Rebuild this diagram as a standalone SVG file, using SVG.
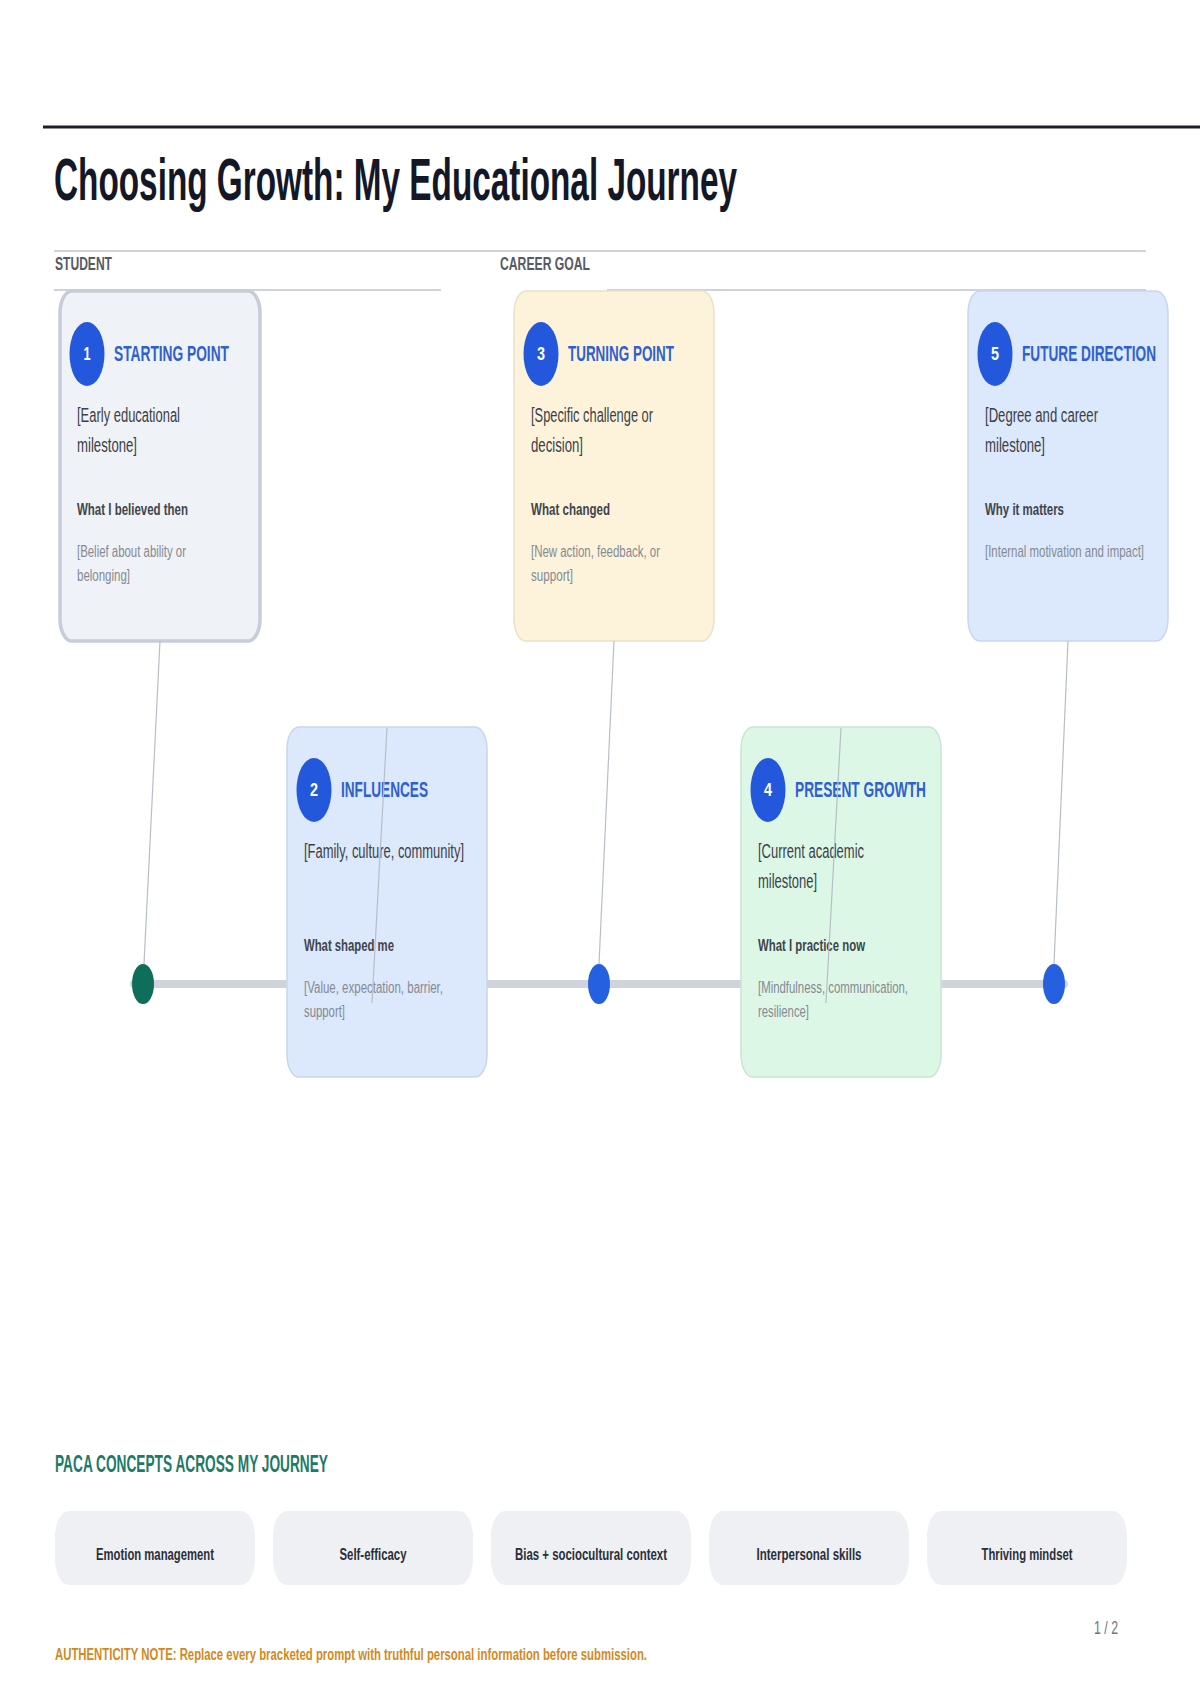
<svg xmlns="http://www.w3.org/2000/svg" width="1200" height="1700" viewBox="0 0 1200 1700">
<style>
text{font-family:"Liberation Sans",Arial,sans-serif}
.title{font-size:33.3px;font-weight:bold;fill:#141826}
.hdr{font-size:19px;font-weight:bold;fill:#555a63}
.rule{stroke:#cfd3d9;stroke-width:2}
.card{stroke-width:1.5}
.c-gray{fill:#eff2f6;stroke:#c6cdd8;stroke-width:3.5}
.c-cream{fill:#fdf3da;stroke:#e8e1cc}
.c-blue{fill:#dce8fb;stroke:#c9d6ea}
.c-green{fill:#ddf7e6;stroke:#c8e6d2}
.badge{fill:#2458dc}
.num{font-size:18px;font-weight:bold;fill:#ffffff;text-anchor:middle}
.ct{font-size:22px;font-weight:bold;fill:#2f5fd0}
.body{font-size:20px;fill:#3b3f48}
.lbl{font-size:17px;font-weight:bold;fill:#40444d}
.note{font-size:16px;fill:#858a94}
.conn{stroke:#b8bec8;stroke-width:1.2;fill:none}
.bar{stroke:#cfd3db;stroke-width:8;stroke-linecap:round}
.sec{font-size:23px;font-weight:bold;fill:#1d7a66}
.pill{fill:#eef0f3}
.pt{font-size:17px;font-weight:bold;fill:#2a2e38;text-anchor:middle}
.pg{font-size:18px;fill:#707580}
.auth{font-size:16px;font-weight:bold;fill:#d4881c}
</style>

<!-- header -->
<line x1="43" y1="127" x2="1200" y2="127" stroke="#1d2029" stroke-width="3"/>
<text class="title" x="0" y="0" transform="translate(54 200) scale(1 1.8)" textLength="683" lengthAdjust="spacingAndGlyphs">Choosing Growth: My Educational Journey</text>
<line class="rule" x1="54" y1="251" x2="1146" y2="251"/>
<text class="hdr" x="55" y="270" textLength="57" lengthAdjust="spacingAndGlyphs">STUDENT</text>
<text class="hdr" x="500" y="270" textLength="90" lengthAdjust="spacingAndGlyphs">CAREER GOAL</text>
<line class="rule" x1="54" y1="290" x2="441" y2="290"/>
<line class="rule" x1="607" y1="290" x2="1146" y2="290"/>

<!-- timeline -->
<line class="bar" x1="134" y1="984" x2="1064" y2="984"/>

<!-- nodes -->
<g id="node-1">
<rect class="c-gray" x="60" y="291" width="200" height="350" rx="12" ry="22"/>
<ellipse class="badge" cx="87" cy="354" rx="17.5" ry="32"/>
<text class="num" x="87" y="360" textLength="7" lengthAdjust="spacingAndGlyphs">1</text>
<text class="ct" x="114" y="361" textLength="115" lengthAdjust="spacingAndGlyphs">STARTING POINT</text>
<text class="body" x="77" y="422" textLength="103" lengthAdjust="spacingAndGlyphs">[Early educational</text>
<text class="body" x="77" y="452" textLength="60" lengthAdjust="spacingAndGlyphs">milestone]</text>
<text class="lbl" x="77" y="515" textLength="111" lengthAdjust="spacingAndGlyphs">What I believed then</text>
<text class="note" x="77" y="557" textLength="109" lengthAdjust="spacingAndGlyphs">[Belief about ability or</text>
<text class="note" x="77" y="581" textLength="53" lengthAdjust="spacingAndGlyphs">belonging]</text>
</g>

<g id="node-3">
<rect class="card c-cream" x="514" y="291" width="200" height="350" rx="12" ry="22"/>
<ellipse class="badge" cx="541" cy="354" rx="17.5" ry="32"/>
<text class="num" x="541" y="360" textLength="8" lengthAdjust="spacingAndGlyphs">3</text>
<text class="ct" x="568" y="361" textLength="106" lengthAdjust="spacingAndGlyphs">TURNING POINT</text>
<text class="body" x="531" y="422" textLength="122" lengthAdjust="spacingAndGlyphs">[Specific challenge or</text>
<text class="body" x="531" y="452" textLength="52" lengthAdjust="spacingAndGlyphs">decision]</text>
<text class="lbl" x="531" y="515" textLength="79" lengthAdjust="spacingAndGlyphs">What changed</text>
<text class="note" x="531" y="557" textLength="129" lengthAdjust="spacingAndGlyphs">[New action, feedback, or</text>
<text class="note" x="531" y="581" textLength="42" lengthAdjust="spacingAndGlyphs">support]</text>
</g>

<g id="node-5">
<rect class="card c-blue" x="968" y="291" width="200" height="350" rx="12" ry="22"/>
<ellipse class="badge" cx="995" cy="354" rx="17.5" ry="32"/>
<text class="num" x="995" y="360" textLength="8" lengthAdjust="spacingAndGlyphs">5</text>
<text class="ct" x="0" y="0" style="font-size:13.36px" transform="translate(1022 361) scale(1 1.647)" textLength="134" lengthAdjust="spacingAndGlyphs">FUTURE DIRECTION</text>
<text class="body" x="985" y="422" textLength="113" lengthAdjust="spacingAndGlyphs">[Degree and career</text>
<text class="body" x="985" y="452" textLength="60" lengthAdjust="spacingAndGlyphs">milestone]</text>
<text class="lbl" x="985" y="515" textLength="79" lengthAdjust="spacingAndGlyphs">Why it matters</text>
<text class="note" x="0" y="0" style="font-size:11.44px" transform="translate(985 557) scale(1 1.398)" textLength="159" lengthAdjust="spacingAndGlyphs">[Internal motivation and impact]</text>
</g>

<g id="node-2">
<rect class="card c-blue" x="287" y="727" width="200" height="350" rx="12" ry="22"/>
<ellipse class="badge" cx="314" cy="790" rx="17.5" ry="32"/>
<text class="num" x="314" y="796" textLength="8" lengthAdjust="spacingAndGlyphs">2</text>
<text class="ct" x="341" y="797" textLength="87" lengthAdjust="spacingAndGlyphs">INFLUENCES</text>
<text class="body" x="304" y="858" textLength="160" lengthAdjust="spacingAndGlyphs">[Family, culture, community]</text>
<text class="lbl" x="304" y="951" textLength="90" lengthAdjust="spacingAndGlyphs">What shaped me</text>
<text class="note" x="304" y="993" textLength="139" lengthAdjust="spacingAndGlyphs">[Value, expectation, barrier,</text>
<text class="note" x="304" y="1017" textLength="41" lengthAdjust="spacingAndGlyphs">support]</text>
</g>

<g id="node-4">
<rect class="card c-green" x="741" y="727" width="200" height="350" rx="12" ry="22"/>
<ellipse class="badge" cx="768" cy="790" rx="17.5" ry="32"/>
<text class="num" x="768" y="796" textLength="8" lengthAdjust="spacingAndGlyphs">4</text>
<text class="ct" x="795" y="797" textLength="131" lengthAdjust="spacingAndGlyphs">PRESENT GROWTH</text>
<text class="body" x="758" y="858" textLength="106" lengthAdjust="spacingAndGlyphs">[Current academic</text>
<text class="body" x="758" y="888" textLength="59" lengthAdjust="spacingAndGlyphs">milestone]</text>
<text class="lbl" x="758" y="951" textLength="107" lengthAdjust="spacingAndGlyphs">What I practice now</text>
<text class="note" x="758" y="993" textLength="150" lengthAdjust="spacingAndGlyphs">[Mindfulness, communication,</text>
<text class="note" x="758" y="1017" textLength="51" lengthAdjust="spacingAndGlyphs">resilience]</text>
</g>

<!-- timeline dots -->
<g id="dots">
<ellipse cx="143" cy="984" rx="11" ry="20" fill="#0e6e5a"/>
<ellipse cx="599" cy="984" rx="11" ry="20" fill="#2460e0"/>
<ellipse cx="1054" cy="984" rx="11" ry="20" fill="#2460e0"/>
</g>

<!-- connectors -->
<g id="connectors">
<line class="conn" x1="160" y1="641" x2="144" y2="964"/>
<line class="conn" x1="614" y1="641" x2="599" y2="964"/>
<line class="conn" x1="1068" y1="641" x2="1054" y2="964"/>
<line class="conn" x1="387" y1="728" x2="372" y2="1003"/>
<line class="conn" x1="841" y1="728" x2="826" y2="1003"/>
</g>

<!-- concepts -->
<text class="sec" x="55" y="1472" textLength="273" lengthAdjust="spacingAndGlyphs">PACA CONCEPTS ACROSS MY JOURNEY</text>
<g id="pill-1"><rect class="pill" x="55" y="1511" width="200" height="74" rx="14" ry="26"/><text class="pt" x="155" y="1560" textLength="118" lengthAdjust="spacingAndGlyphs">Emotion management</text></g>
<g id="pill-2"><rect class="pill" x="273" y="1511" width="200" height="74" rx="14" ry="26"/><text class="pt" x="373" y="1560" textLength="67" lengthAdjust="spacingAndGlyphs">Self-efficacy</text></g>
<g id="pill-3"><rect class="pill" x="491" y="1511" width="200" height="74" rx="14" ry="26"/><text class="pt" x="591" y="1560" textLength="152" lengthAdjust="spacingAndGlyphs">Bias + sociocultural context</text></g>
<g id="pill-4"><rect class="pill" x="709" y="1511" width="200" height="74" rx="14" ry="26"/><text class="pt" x="809" y="1560" textLength="105" lengthAdjust="spacingAndGlyphs">Interpersonal skills</text></g>
<g id="pill-5"><rect class="pill" x="927" y="1511" width="200" height="74" rx="14" ry="26"/><text class="pt" x="1027" y="1560" textLength="91" lengthAdjust="spacingAndGlyphs">Thriving mindset</text></g>

<text class="pg" x="1094" y="1634" textLength="24" lengthAdjust="spacingAndGlyphs">1 / 2</text>
<text class="auth" x="55" y="1660" textLength="592" lengthAdjust="spacingAndGlyphs">AUTHENTICITY NOTE: Replace every bracketed prompt with truthful personal information before submission.</text>
</svg>
